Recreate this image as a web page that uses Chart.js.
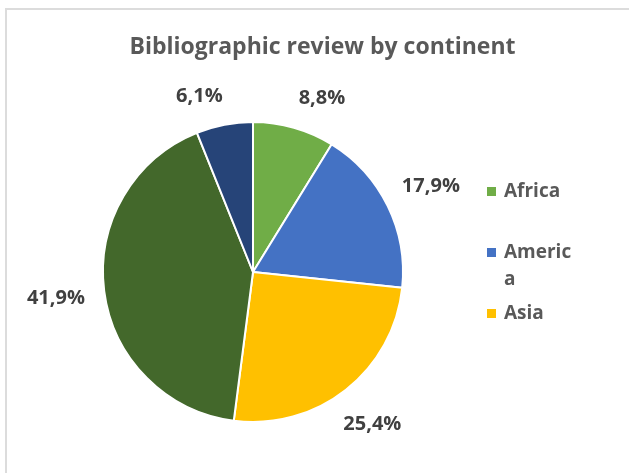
<!DOCTYPE html>
<html>
<head>
<meta charset="utf-8">
<title>Bibliographic review by continent</title>
<script src="https://cdn.jsdelivr.net/npm/chart.js@4.4.1/dist/chart.umd.min.js"></script>
<style>
  body { margin: 0; background: #fff; }
  #wrap { position: relative; width: 629px; height: 473px; overflow: hidden; }
  #frame {
    position: absolute; left: 5px; top: 8px; right: -10px; bottom: -10px;
    border-top: 2px solid #dcdcdc; border-left: 2px solid #dcdcdc;
  }
  canvas { position: absolute; left: 0; top: 0; }
</style>
</head>
<body>
<div id="wrap">
  <div id="frame"></div>
  <canvas id="continentPie" width="629" height="473"></canvas>
</div>
<script>
// Data
const chartTitle = 'Bibliographic review by continent';
const continents = ['Africa', 'America', 'Asia', 'Europe', 'Oceania'];
const shares = [8.8, 17.9, 25.4, 41.9, 6.1];
const sliceColors = ['#70AD47', '#4472C4', '#FFC000', '#43682B', '#264478'];
const legendCount = 3; // only the first entries fit in the legend box

const FONT = '"Open Sans", "Noto Sans", sans-serif';
const CAP = 0.714; // cap height / font size for Open Sans

// split a label over several lines when it is wider than maxW
function wrapChars(ctx, text, maxW) {
    const lines = [];
    let line = '';
    for (const ch of text) {
        if (line && ctx.measureText(line + ch).width > maxW) {
            lines.push(line);
            line = ch;
        } else {
            line += ch;
        }
    }
    lines.push(line);
    return lines;
}

// title, outside-end percentage labels and the legend
const pieText = {
    id: 'pieText',
    afterDraw(chart) {
        const ctx = chart.ctx;
        ctx.save();

        // title
        ctx.font = 'bold 23px ' + FONT;
        ctx.fillStyle = '#595959';
        ctx.textAlign = 'center';
        ctx.textBaseline = 'alphabetic';
        ctx.fillText(chartTitle, chart.width / 2 + 8, 54);

        // value labels, placed just outside each slice
        const meta = chart.getDatasetMeta(0);
        const size = 20;
        const capH = size * CAP;
        ctx.font = 'bold ' + size + 'px ' + FONT;
        const boxes = meta.data.map((arc, i) => {
            const p = arc.getProps(['x', 'y', 'startAngle', 'endAngle', 'outerRadius'], true);
            const mid = (p.startAngle + p.endAngle) / 2;
            const txt = shares[i].toFixed(1).replace('.', ',') + '%';
            const w = ctx.measureText(txt).width;
            const cos = Math.cos(mid), sin = Math.sin(mid);
            const d = p.outerRadius + 19 + (w / 2) * Math.abs(cos) + (capH / 2) * Math.abs(sin);
            return { txt, w, x: p.x + d * cos, y: p.y + d * sin };
        });

        // spread labels that sit on the same row too close together
        const minGap = 76;
        for (let a = 0; a < boxes.length; a++) {
            for (let b = a + 1; b < boxes.length; b++) {
                const A = boxes[a], B = boxes[b];
                if (Math.abs(A.y - B.y) > capH * 1.5) continue;
                const [L, R] = A.x < B.x ? [A, B] : [B, A];
                const gap = (R.x - R.w / 2) - (L.x + L.w / 2);
                if (gap < minGap) {
                    const push = (minGap - gap) / 2;
                    L.x -= push;
                    R.x += push;
                }
            }
        }

        ctx.fillStyle = '#404040';
        boxes.forEach(bx => ctx.fillText(bx.txt, bx.x, bx.y + capH / 2));

        // legend
        ctx.font = 'bold 19px ' + FONT;
        ctx.textAlign = 'left';
        for (let i = 0; i < legendCount; i++) {
            const base = 197 + 61 * i;
            ctx.fillStyle = sliceColors[i];
            ctx.fillRect(487, base - 10, 9, 9);
            ctx.fillStyle = '#595959';
            wrapChars(ctx, continents[i], 70).forEach((ln, k) => {
                ctx.fillText(ln, 504, base + 27 * k);
            });
        }
        ctx.restore();
    }
};

const ctxPie = document.getElementById('continentPie').getContext('2d');

new Chart(ctxPie, {
    type: 'pie',
    data: {
        labels: continents,
        datasets: [{
            data: shares,
            backgroundColor: sliceColors,
            borderColor: '#ffffff',
            borderWidth: 2,
            radius: 150
        }]
    },
    options: {
        responsive: false,
        animation: false,
        layout: {
            padding: { left: 0, right: 123, top: 80, bottom: 9 }
        },
        plugins: {
            legend: { display: false },
            title: { display: false },
            tooltip: { enabled: false }
        }
    },
    plugins: [pieText]
});
</script>
</body>
</html>
